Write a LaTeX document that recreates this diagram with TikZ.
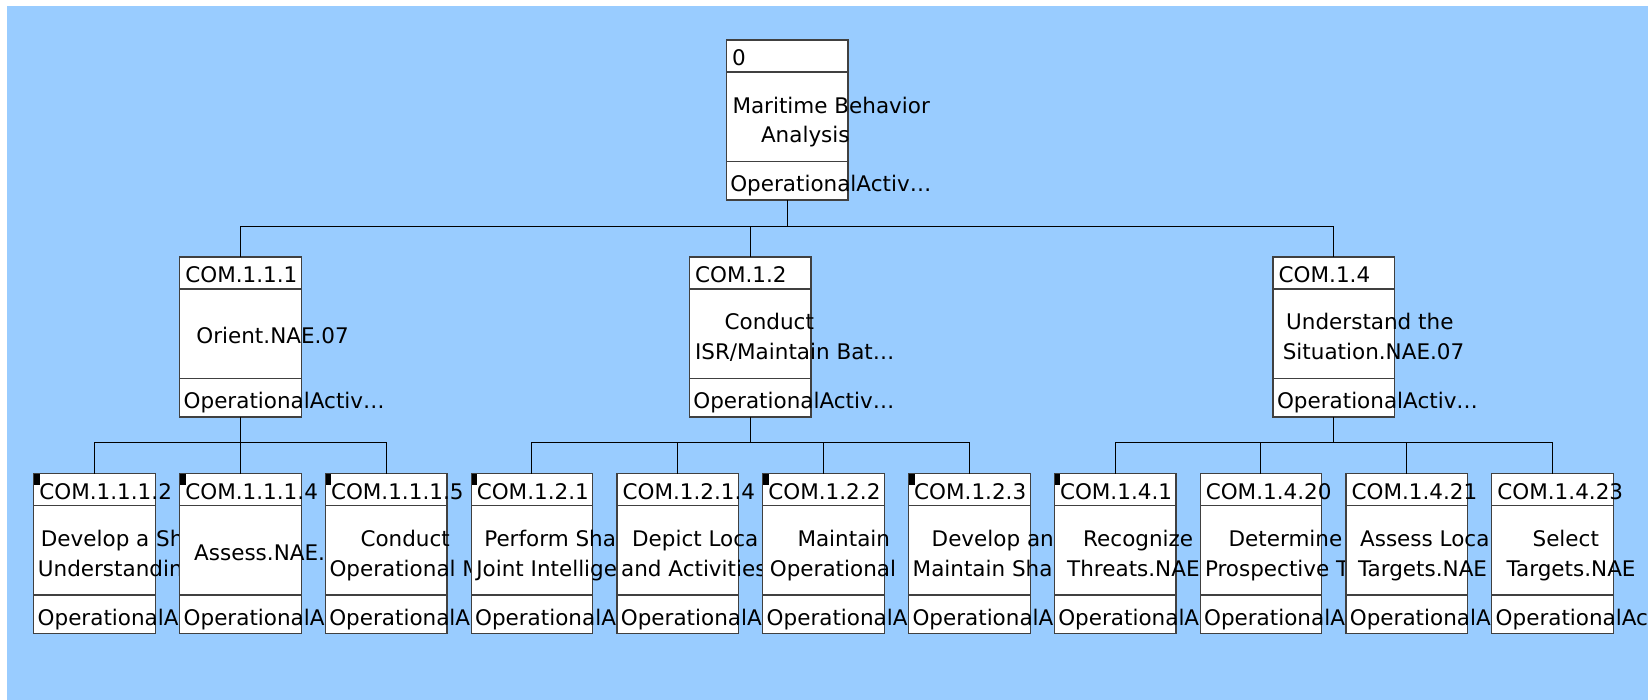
\documentclass[tikz,border=0pt]{standalone}
\usepackage{fontspec}
\setmainfont{DejaVu Sans}
\definecolor{bgblue}{HTML}{99CCFF}
\definecolor{boxgray}{HTML}{404040}
% one activity box: frame, two dividers and the id line
\newcommand{\opbox}[2]{%
  \node[opbox] (#1) at (0,0) {};
  \draw[divider] (0,32) -- (121.6,32);
  \draw[divider] (0,121.3) -- (121.6,121.3);
  \node[idtext] (#1-id) at (5.5,25.3) {#2};
}
\newcommand{\flag}{\fill (0.6,0.6) rectangle (6,11.5);}

\begin{document}
\begin{tikzpicture}[x=1pt,y=-1pt,
    font=\fontsize{21.5}{30}\selectfont,
    opbox/.style={draw=boxgray,line width=1.2pt,fill=white,anchor=north west,
      minimum width=121.6pt,minimum height=160pt,inner sep=0pt,outer sep=0pt},
    divider/.style={draw=boxgray,line width=1.2pt},
    idtext/.style={anchor=base west,inner sep=0pt},
    bodytext/.style={anchor=base west,inner sep=0pt},
    typetext/.style={anchor=base west,inner sep=0pt},
    link/.style={line width=1pt}]
  \useasboundingbox (0,0) rectangle (1648,700);
  \fill[white] (0,0) rectangle (1648,700);
  \fill[bgblue] (7,6) rectangle (1648,700);
  \clip (0,0) rectangle (1648,700);

  % top
  \begin{scope}[shift={(726.3,40)}]
    \opbox{rt}{0}
    \node[bodytext] (rt-a) at (6,74) {Maritime Behavior};
    \node[bodytext] (rt-b) at (34.5,103) {Analysis};
    \node[typetext] (rt-t) at (3.8,151.3) {OperationalActiv…};
  \end{scope}

  % second row
  \begin{scope}[shift={(179.7,257)}]
    \opbox{c111}{COM.1.1.1}
    \node[bodytext] (c111-a) at (16.5,86.3) {Orient.NAE.07};
    \node[typetext] (c111-t) at (3.8,151.3) {OperationalActiv…};
  \end{scope}
  \begin{scope}[shift={(689.4,257)}]
    \opbox{c12}{COM.1.2}
    \node[bodytext] (c12-a) at (35,72.5) {Conduct};
    \node[bodytext] (c12-b) at (5.4,102.5) {ISR/Maintain Bat…};
    \node[typetext] (c12-t) at (3.8,151.3) {OperationalActiv…};
  \end{scope}
  \begin{scope}[shift={(1273,257)}]
    \opbox{c14}{COM.1.4}
    \node[bodytext] (c14-a) at (13,72.5) {Understand the};
    \node[bodytext] (c14-b) at (9.6,102.5) {Situation.NAE.07};
    \node[typetext] (c14-t) at (3.8,151.3) {OperationalActiv…};
  \end{scope}

  % third row
  \begin{scope}[shift={(33.7,473.7)}]
    \opbox{c1112}{COM.1.1.1.2}\flag
    \node[bodytext] (c1112-a) at (7,72.5) {Develop a Sh};
    \node[bodytext] (c1112-b) at (4,102.5) {Understandin};
    \node[typetext] (c1112-t) at (3.8,151.3) {OperationalA};
  \end{scope}
  \begin{scope}[shift={(179.7,473.7)}]
    \opbox{c1114}{COM.1.1.1.4}\flag
    \node[bodytext] (c1114-a) at (14.3,86.3) {Assess.NAE.};
    \node[typetext] (c1114-t) at (3.8,151.3) {OperationalA};
  \end{scope}
  \begin{scope}[shift={(325.3,473.7)}]
    \opbox{c1115}{COM.1.1.1.5}\flag
    \node[bodytext] (c1115-a) at (35,72.5) {Conduct};
    \node[bodytext] (c1115-b) at (4,102.5) {Operational M};
    \node[typetext] (c1115-t) at (3.8,151.3) {OperationalA};
  \end{scope}
  \begin{scope}[shift={(471.1,473.7)}]
    \opbox{c121}{COM.1.2.1}\flag
    \node[bodytext] (c121-a) at (13,72.5) {Perform Sha};
    \node[bodytext] (c121-b) at (5,102.5) {Joint Intellige};
    \node[typetext] (c121-t) at (3.8,151.3) {OperationalA};
  \end{scope}
  \begin{scope}[shift={(616.9,473.7)}]
    \opbox{c1214}{COM.1.2.1.4}
    \node[bodytext] (c1214-a) at (15,72.5) {Depict Loca};
    \node[bodytext] (c1214-b) at (4,102.5) {and Activities};
    \node[typetext] (c1214-t) at (3.8,151.3) {OperationalA};
  \end{scope}
  \begin{scope}[shift={(762.7,473.7)}]
    \opbox{c122}{COM.1.2.2}\flag
    \node[bodytext] (c122-a) at (34.6,72.5) {Maintain};
    \node[bodytext] (c122-b) at (7,102.5) {Operational};
    \node[typetext] (c122-t) at (3.8,151.3) {OperationalA};
  \end{scope}
  \begin{scope}[shift={(908.5,473.7)}]
    \opbox{c123}{COM.1.2.3}\flag
    \node[bodytext] (c123-a) at (23,72.5) {Develop an};
    \node[bodytext] (c123-b) at (4,102.5) {Maintain Sha};
    \node[typetext] (c123-t) at (3.8,151.3) {OperationalA};
  \end{scope}
  \begin{scope}[shift={(1054.3,473.7)}]
    \opbox{c141}{COM.1.4.1}\flag
    \node[bodytext] (c141-a) at (28.7,72.5) {Recognize};
    \node[bodytext] (c141-b) at (12.7,102.5) {Threats.NAE};
    \node[typetext] (c141-t) at (3.8,151.3) {OperationalA};
  \end{scope}
  \begin{scope}[shift={(1200.1,473.7)}]
    \opbox{c1420}{COM.1.4.20}
    \node[bodytext] (c1420-a) at (28.3,72.5) {Determine};
    \node[bodytext] (c1420-b) at (4.7,102.5) {Prospective T};
    \node[typetext] (c1420-t) at (3.8,151.3) {OperationalA};
  \end{scope}
  \begin{scope}[shift={(1345.9,473.7)}]
    \opbox{c1421}{COM.1.4.21}
    \node[bodytext] (c1421-a) at (14,72.5) {Assess Loca};
    \node[bodytext] (c1421-b) at (12,102.5) {Targets.NAE};
    \node[typetext] (c1421-t) at (3.8,151.3) {OperationalA};
  \end{scope}
  \begin{scope}[shift={(1491.7,473.7)}]
    \opbox{c1423}{COM.1.4.23}
    \node[bodytext] (c1423-a) at (40.7,72.5) {Select};
    \node[bodytext] (c1423-b) at (14.7,102.5) {Targets.NAE};
    \node[typetext] (c1423-t) at (3.8,151.3) {OperationalAc};
  \end{scope}

  % tree lines
  \draw[link] (rt.south) -- ++(0,27) -| (c111.north);
  \draw[link] (rt.south) ++(0,27) -| (c12.north);
  \draw[link] (rt.south) ++(0,27) -| (c14.north);
  \draw[link] (c111.south) -- ++(0,25.5) -| (c1112.north);
  \draw[link] (c111.south) ++(0,25.5) -| (c1114.north);
  \draw[link] (c111.south) ++(0,25.5) -| (c1115.north);
  \draw[link] (c12.south) -- ++(0,25.5) -| (c121.north);
  \draw[link] (c12.south) ++(0,25.5) -| (c1214.north);
  \draw[link] (c12.south) ++(0,25.5) -| (c122.north);
  \draw[link] (c12.south) ++(0,25.5) -| (c123.north);
  \draw[link] (c14.south) -- ++(0,25.5) -| (c141.north);
  \draw[link] (c14.south) ++(0,25.5) -| (c1420.north);
  \draw[link] (c14.south) ++(0,25.5) -| (c1421.north);
  \draw[link] (c14.south) ++(0,25.5) -| (c1423.north);
\end{tikzpicture}
\end{document}
